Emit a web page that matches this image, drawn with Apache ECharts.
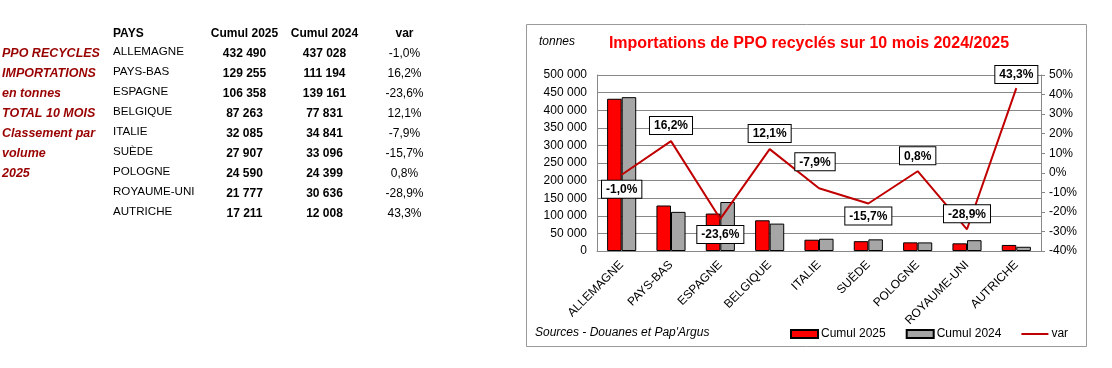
<!DOCTYPE html>
<html>
<head>
<meta charset="utf-8">
<script src="https://cdn.jsdelivr.net/npm/echarts@6.0.0/dist/echarts.min.js"></script>
<style>
html,body{margin:0;padding:0;background:#fff;}
#c{width:1112px;height:368px;}
</style>
</head>
<body>
<div id="c"></div>
<script>
const countries = ['ALLEMAGNE','PAYS-BAS','ESPAGNE','BELGIQUE','ITALIE','SUÈDE','POLOGNE','ROYAUME-UNI','AUTRICHE'];
const cumul2025 = [432490,129255,106358,87263,32085,27907,24590,21777,17211];
const cumul2024 = [437028,111194,139161,77831,34841,33096,24399,30636,12008];
const variation = [-1.0,16.2,-23.6,12.1,-7.9,-15.7,0.8,-28.9,43.3];
const sideNotes = ['PPO RECYCLES','IMPORTATIONS','en tonnes','TOTAL 10 MOIS','Classement par','volume','2025'];
const tableHeaders = ['PAYS','Cumul 2025','Cumul 2024','var'];
const chartTitle = 'Importations de PPO recyclés sur 10 mois 2024/2025';
const unitLabel = 'tonnes';
const sourceLabel = "Sources - Douanes et Pap'Argus";

// label placement styles (not data)
const labelPlacement = [
  {p:'bottom', d:6, o:[0,0]},
  {p:'top', d:7, o:[0,0]},
  {p:'bottom', d:7, o:[0,0]},
  {p:'top', d:7, o:[0,0]},
  {p:'top', d:18, o:[-4,0]},
  {p:'bottom', d:4, o:[0,0]},
  {p:'top', d:7, o:[0,0]},
  {p:'top', d:7, o:[0,0]},
  {p:'top', d:5, o:[0,0]}
];

const FONT = '"Liberation Sans", Arial, sans-serif';
const fmtNum = n => String(n).replace(/\B(?=(\d{3})+(?!\d))/g, ' ');
const fmtPct = v => v.toFixed(1).replace('.', ',') + '%';

const graphics = [];
// chart frame
graphics.push({type:'rect', left:524, top:22, shape:{width:560, height:322}, style:{fill:'none', stroke:'#999', lineWidth:1}, z:-10});
// side notes
sideNotes.forEach((t,i)=>{
  graphics.push({type:'text', x:2, y:54+i*20, style:{text:t, fontFamily:FONT, fontSize:12.5, fontWeight:'bold', fontStyle:'italic', fill:'#990000', align:'left', verticalAlign:'middle'}});
});
// table headers
const colX = [113, 244.5, 324.5, 404.5];
tableHeaders.forEach((t,i)=>{
  graphics.push({type:'text', x:colX[i], y:33.5, style:{text:t, fontFamily:FONT, fontSize:12, fontWeight:'bold', fill:'#000', align:i===0?'left':'center', verticalAlign:'middle'}});
});
countries.forEach((c,i)=>{
  const y = 53.3 + i*20;
  graphics.push({type:'text', x:colX[0], y:y-1.6, style:{text:c, fontFamily:FONT, fontSize:11.6, fill:'#000', align:'left', verticalAlign:'middle'}});
  graphics.push({type:'text', x:colX[1], y:y, style:{text:fmtNum(cumul2025[i]), fontFamily:FONT, fontSize:12, fontWeight:'bold', fill:'#000', align:'center', verticalAlign:'middle'}});
  graphics.push({type:'text', x:colX[2], y:y, style:{text:fmtNum(cumul2024[i]), fontFamily:FONT, fontSize:12, fontWeight:'bold', fill:'#000', align:'center', verticalAlign:'middle'}});
  graphics.push({type:'text', x:colX[3], y:y, style:{text:fmtPct(variation[i]), fontFamily:FONT, fontSize:12, fill:'#000', align:'center', verticalAlign:'middle'}});
});
// unit and source
graphics.push({type:'text', x:539, y:42, style:{text:unitLabel, fontFamily:FONT, fontSize:12, fontStyle:'italic', fill:'#000', align:'left', verticalAlign:'middle'}});
graphics.push({type:'text', x:535, y:333, style:{text:sourceLabel, fontFamily:FONT, fontSize:12, fontStyle:'italic', fill:'#000', align:'left', verticalAlign:'middle'}});

const chart = echarts.init(document.getElementById('c'), null, {renderer:'canvas'});
chart.setOption({
  animation:false,
  backgroundColor:'#fff',
  textStyle:{fontFamily:FONT},
  title:{text:chartTitle, left:809, top:36, textAlign:'center', padding:0,
    textStyle:{color:'#ff0000', fontSize:16, fontWeight:'bold', fontFamily:FONT}},
  grid:{left:597, right:71, top:75, bottom:117, containLabel:false},
  legend:{left:790, top:328, padding:0, itemWidth:27, itemHeight:8, itemGap:20,
    textStyle:{fontSize:12, color:'#000', fontFamily:FONT, padding:[0,0,0,-2]},
    data:[{name:'Cumul 2025', icon:'rect'},{name:'Cumul 2024', icon:'rect'},
      {name:'var', icon:'path://M0,0h27v2h-27z', itemStyle:{color:'#c00000', borderWidth:0}}]},
  xAxis:{type:'category', data:countries,
    axisLine:{lineStyle:{color:'#888'}}, axisTick:{show:false},
    axisLabel:{rotate:45, interval:0, color:'#000', fontSize:12, fontFamily:FONT, margin:12}},
  yAxis:[
    {type:'value', min:0, max:500000, interval:50000,
      axisLine:{show:true, lineStyle:{color:'#888'}}, axisTick:{show:false},
      splitLine:{lineStyle:{color:'#888', width:1}},
      axisLabel:{color:'#000', fontSize:12, fontFamily:FONT, margin:10, formatter:v=>fmtNum(v)}},
    {type:'value', min:-40, max:50, interval:10, position:'right',
      axisLine:{show:true, lineStyle:{color:'#888'}}, axisTick:{show:true, length:4, lineStyle:{color:'#888'}},
      splitLine:{show:false},
      axisLabel:{color:'#000', fontSize:12, fontFamily:FONT, margin:8, formatter:v=>v+'%'}}
  ],
  series:[
    {name:'Cumul 2025', type:'bar', data:cumul2025, barGap:'0%', barCategoryGap:'41%',
      itemStyle:{color:'#ff0000', borderColor:'#000', borderWidth:1}},
    {name:'Cumul 2024', type:'bar', data:cumul2024,
      itemStyle:{color:'#a6a6a6', borderColor:'#000', borderWidth:1}},
    {name:'var', type:'line', yAxisIndex:1, symbol:'circle', symbolSize:0, showSymbol:true, z:5,
      lineStyle:{color:'#c00000', width:2}, itemStyle:{color:'#c00000'},
      data: variation.map((v,i)=>({value:v, label:{show:true, position:labelPlacement[i].p, distance:labelPlacement[i].d, offset:labelPlacement[i].o}})),
      label:{show:true, formatter:p=>fmtPct(p.value), color:'#000', fontWeight:'bold', fontSize:12, fontFamily:FONT,
        backgroundColor:'#fff', borderColor:'#000', borderWidth:1, padding:[3,4,2,4]}}
  ],
  graphic: graphics
});
</script>
</body>
</html>
